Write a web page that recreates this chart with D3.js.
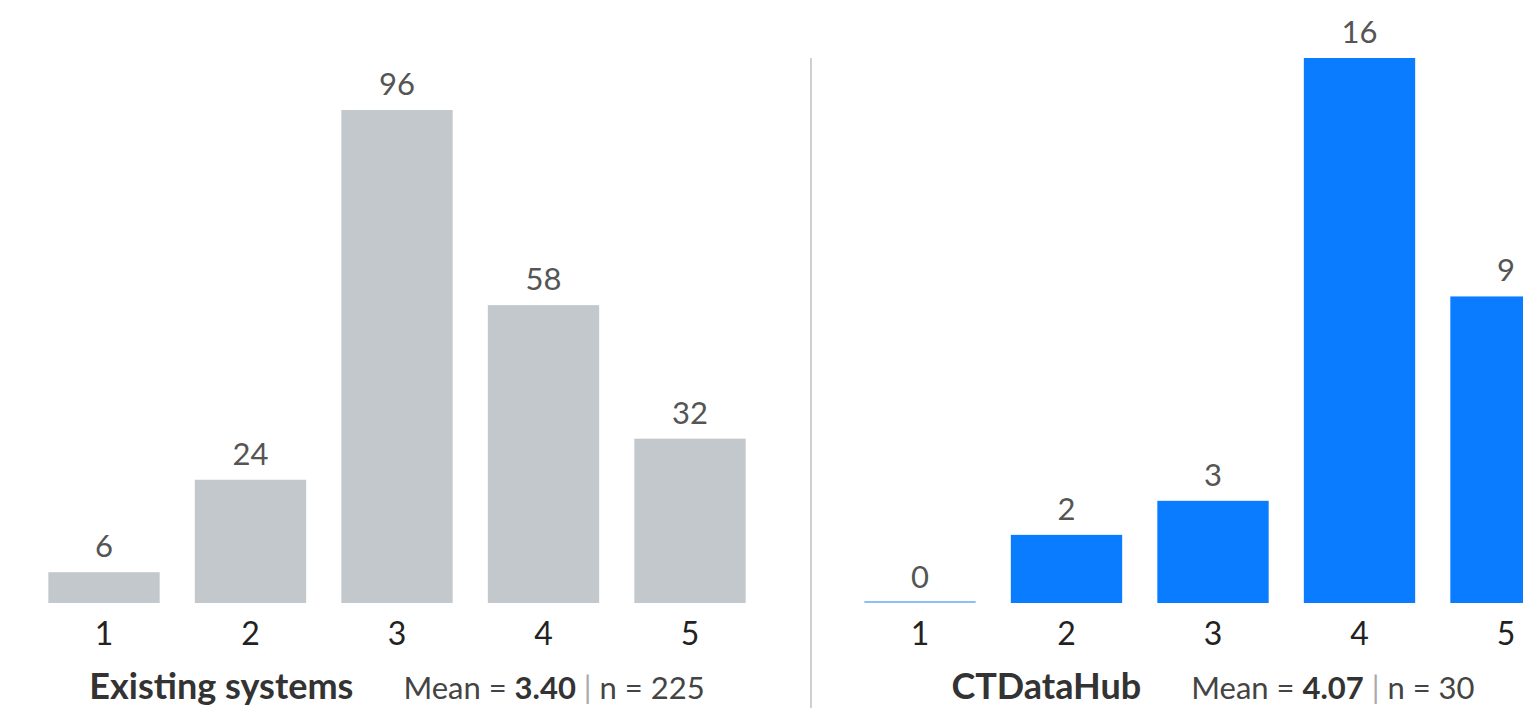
<!DOCTYPE html>
<html>
<head>
<meta charset="utf-8">
<script src="https://cdn.jsdelivr.net/npm/d3@7"></script>
<style>
  html, body { margin: 0; padding: 0; background: #fff; }
  svg { display: block; font-family: "Lato", "Open Sans", sans-serif; }
</style>
</head>
<body>
<svg id="chart"></svg>
<script>
const categories = ["1", "2", "3", "4", "5"];
const existingCounts = [6, 24, 96, 58, 32];
const hubCounts = [0, 2, 3, 16, 9];
const panels = [
    { name: "Existing systems", mean: "3.40", n: "225", values: existingCounts, max: 96 },
    { name: "CTDataHub", mean: "4.07", n: "30", values: hubCounts, max: 16 }
];

const W = 1523, H = 708;
const svg = d3.select("#chart").attr("width", W).attr("height", H);

const baseY = 603;
const panelRanges = [[30.75, 763.25], [846.75, 1579.25]];
const topY = [110, 58];
const colors = ["#c3c8cc", "#0a7cff"];

// divider between the two panels
svg.append("line")
    .attr("x1", 811).attr("x2", 811)
    .attr("y1", 58).attr("y2", H)
    .attr("stroke", "#d0d0d0")
    .attr("stroke-width", 2);

panels.forEach((p, i) => {
    let x = d3.scaleBand().domain(categories).range(panelRanges[i])
        .paddingInner(0.24).paddingOuter(0.12);
    let y = d3.scaleLinear().domain([0, p.max]).range([baseY, topY[i]]);
    let data = categories.map((c, k) => ({ cat: c, v: p.values[k] }));

    let g = svg.append("g");

    g.selectAll("rect.bar")
        .data(data)
        .enter().append("rect")
        .attr("class", "bar")
        .attr("x", d => x(d.cat))
        .attr("width", x.bandwidth())
        .attr("y", d => d.v === 0 ? baseY - 2 : y(d.v))
        .attr("height", d => d.v === 0 ? 2 : baseY - y(d.v))
        .attr("fill", d => d.v === 0 ? "#8cc0f5" : colors[i]);

    g.selectAll("text.val")
        .data(data)
        .enter().append("text")
        .attr("class", "val")
        .attr("x", d => x(d.cat) + x.bandwidth() / 2)
        .attr("y", d => y(d.v) - 15)
        .attr("text-anchor", "middle")
        .attr("font-size", 31)
        .attr("fill", "#555")
        .text(d => d.v);

    let axis = g.append("g")
        .attr("transform", "translate(0," + baseY + ")")
        .call(d3.axisBottom(x).tickSize(0).tickPadding(0));
    axis.select(".domain").remove();
    axis.selectAll("text")
        .attr("font-family", "Lato, sans-serif")
        .attr("font-size", 32)
        .attr("fill", "#222")
        .attr("y", 42)
        .attr("dy", 0);

    let cx = x(categories[2]) + x.bandwidth() / 2;
    let t = g.append("text")
        .attr("x", cx)
        .attr("y", 699)
        .attr("text-anchor", "middle")
        .attr("fill", "#333");
    t.append("tspan").attr("font-size", 36).attr("font-weight", "bold").text(p.name);
    t.append("tspan").attr("dx", 50).attr("font-size", 31).attr("fill", "#444").text("Mean = ");
    t.append("tspan").attr("font-size", 31).attr("font-weight", "bold").text(p.mean);
    t.append("tspan").attr("font-size", 31).attr("fill", "#aaa").text(" | ");
    t.append("tspan").attr("font-size", 31).attr("fill", "#444").text("n = " + p.n);
});
</script>
</body>
</html>
